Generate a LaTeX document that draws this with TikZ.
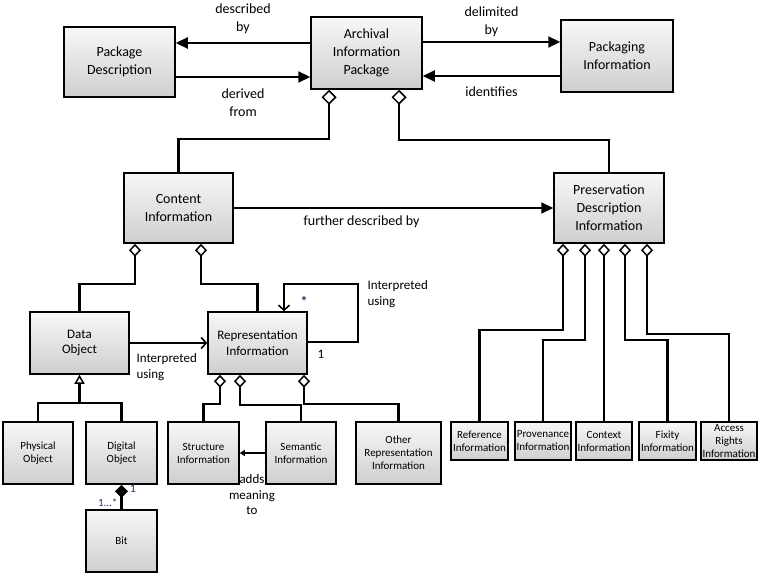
\documentclass[tikz,border=0pt]{standalone}
\usepackage{fontspec}
\setmainfont{Carlito}
\usetikzlibrary{arrows.meta}
\definecolor{multblue}{RGB}{30,50,100}
\tikzset{
  box/.style={draw, line width=1.5pt, top color=gray!6, bottom color=gray!38, align=center, inner sep=1pt},
  bigbox/.style={box, font=\fontsize{14}{18}\selectfont},
  midbox/.style={box, font=\fontsize{13}{15.5}\selectfont},
  smallbox/.style={box, font=\fontsize{11}{13}\selectfont},
  lbl/.style={align=center, font=\fontsize{14}{18}\selectfont},
  link/.style={line width=2.2pt},
  arr/.style={link, -{Triangle[length=12pt,width=11pt]}},
  barb/.style={link, -{Straight Barb[length=5pt,width=11pt,line width=1.6pt]}},
  agg/.style={{Diamond[open,length=15pt,width=15pt,line width=1.5pt]}-, link},
  sagg/.style={{Diamond[open,length=13pt,width=12pt,line width=1.5pt]}-, link},
  comp/.style={{Diamond[length=13pt,width=13pt]}-, link},
  gen/.style={{Triangle[open,length=9pt,width=10pt,line width=1.5pt]}-, link}
}
\begin{document}
\begin{tikzpicture}[x=1pt, y=-1pt]
  \useasboundingbox (0,0) rectangle (761,575);

  % Package level
  \node [bigbox, minimum width=111pt, minimum height=70pt] (pd) at (119.5,62) {Package\\Description};
  \node [bigbox, minimum width=111pt, minimum height=72pt] (aip) at (366.5,53) {Archival\\Information\\Package};
  \node [bigbox, minimum width=112pt, minimum height=72pt] (pi) at (617,56) {Packaging\\Information};

  \draw [arr] ([yshift=10pt]aip.west) -- ([yshift=10pt]aip.west -| pd.east)
    node [midway, above=5pt, lbl] {described\\by};
  \draw [arr] ([yshift=-15pt]pd.east) -- ([yshift=-15pt]pd.east -| aip.west)
    node [midway, below=7pt, lbl] {derived\\from};
  \draw [arr] ([yshift=11pt]aip.east) -- ([yshift=11pt]aip.east -| pi.west)
    node [midway, above=1pt, lbl] {delimited\\by};
  \draw [arr] ([yshift=-20pt]pi.west) -- ([yshift=-20pt]pi.west -| aip.east)
    node [midway, below=6pt, lbl] {identifies};

  % Content and preservation description
  \node [bigbox, minimum width=109pt, minimum height=70pt] (ci) at (178.5,208) {Content\\Information};
  \node [bigbox, minimum width=110pt, minimum height=70pt] (pdi) at (609,208) {Preservation\\Description\\Information};

  \draw [agg] ([xshift=-37.5pt]aip.south) -- ++(0,49) -| (ci.north);
  \draw [agg] ([xshift=32.5pt]aip.south) -- ++(0,50) -| (pdi.north);
  \draw [arr] (ci.east) -- (pdi.west) node [pos=0.4, below=3pt, lbl] {further described by};

  % Data object and representation information
  \node [midbox, minimum width=99pt, minimum height=62pt] (do) at (79.5,343) {Data\\Object};
  \node [midbox, minimum width=99pt, minimum height=62pt] (ri) at (257.5,343) {Representation\\Information};

  \draw [sagg] ([xshift=-43.5pt]ci.south) -- ++(0,40) -| (do.north);
  \draw [sagg] ([xshift=22.5pt]ci.south) -- ++(0,40) -| (ri.north);
  \draw [barb] (do.east) -- (ri.west);
  \node [lbl, font=\fontsize{13}{16}\selectfont, align=left, anchor=north west] (diu) at (133,350) {Interpreted\\using};

  \draw [barb] ([yshift=1pt]ri.east) -- ++(50,0) -- ++(0,-58) -| ([xshift=26.5pt]ri.north);
  \node [font=\bfseries\fontsize{14}{14}\selectfont, text=multblue] (ristar) at (304,301) {*};
  \node [font=\fontsize{13}{15}\selectfont] (rione) at (321,354) {1};
  \node [lbl, font=\fontsize{13}{16}\selectfont, align=left, anchor=north west] (riu) at (364,277) {Interpreted\\using};

  % Physical and digital objects
  \node [smallbox, minimum width=70pt, minimum height=62pt] (pho) at (38,453) {Physical\\Object};
  \node [smallbox, minimum width=71pt, minimum height=62pt] (dio) at (121.5,453) {Digital\\Object};
  \node [smallbox, minimum width=71pt, minimum height=62pt] (bit) at (121.5,541) {Bit};

  \draw [gen] (do.south) -- ++(0,28) coordinate (dosplit) -| (pho.north);
  \draw [link] (dosplit) -| (dio.north);
  \draw [comp] (dio.south) -- (bit.north);
  \node [font=\fontsize{12}{14}\selectfont, text=multblue] (dione) at (133,489) {1};
  \node [font=\fontsize{11}{13}\selectfont, text=multblue, anchor=east] (bitmany) at (121,503) {1...*};

  % Kinds of representation information
  \node [smallbox, minimum width=71pt, minimum height=62pt] (sti) at (203.5,453) {Structure\\Information};
  \node [smallbox, minimum width=70pt, minimum height=62pt] (sei) at (301,453) {Semantic\\Information};
  \node [smallbox, minimum width=85pt, minimum height=62pt] (ori) at (398.5,453) {Other\\Representation\\Information};

  \draw [sagg] ([xshift=-37.5pt]ri.south) -- ++(0,29) -| (sti.north);
  \draw [sagg] ([xshift=-17.5pt]ri.south) -- ++(0,30) -| (sei.north);
  \draw [sagg] ([xshift=46.5pt]ri.south) -- ++(0,29) -| (ori.north);
  \draw [link, -{Triangle[length=5pt,width=6pt]}] (sei.west) -- (sti.east);
  \node [lbl, font=\fontsize{13}{15.5}\selectfont] (adds) at (252,495) {adds\\meaning\\to};

  % Kinds of preservation description information
  \node [smallbox, minimum width=57pt, minimum height=38pt] (ref) at (479.5,441) {Reference\\Information};
  \node [smallbox, minimum width=56pt, minimum height=38pt] (prov) at (543,441) {Provenance\\Information};
  \node [smallbox, minimum width=56pt, minimum height=38pt] (ctx) at (604,441) {Context\\Information};
  \node [smallbox, minimum width=57pt, minimum height=38pt] (fix) at (667.5,441) {Fixity\\Information};
  \node [smallbox, minimum width=56pt, minimum height=38pt] (acc) at (729,441) {Access\\Rights\\Information};

  \draw [sagg] ([xshift=-46pt]pdi.south) -- ++(0,86) -| (ref.north);
  \draw [sagg] ([xshift=-24pt]pdi.south) -- ++(0,96) -| (prov.north);
  \draw [sagg] ([xshift=-5pt]pdi.south) -- (ctx.north);
  \draw [sagg] ([xshift=16pt]pdi.south) -- ++(0,96) -| (fix.north);
  \draw [sagg] ([xshift=38pt]pdi.south) -- ++(0,90) -| (acc.north);
\end{tikzpicture}
\end{document}
